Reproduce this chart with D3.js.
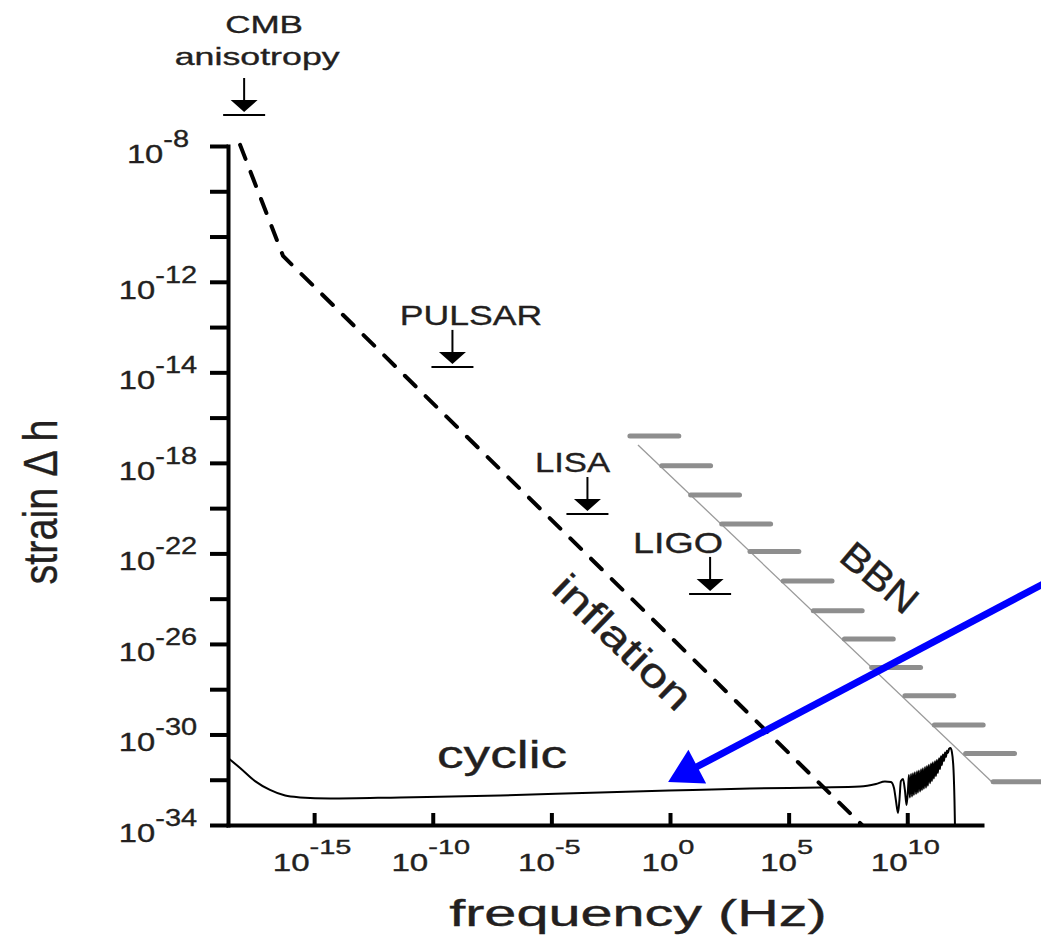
<!DOCTYPE html>
<html>
<head>
<meta charset="utf-8">
<script src="https://cdn.jsdelivr.net/npm/d3@7"></script>
<style>
  html, body { margin: 0; padding: 0; background: #fff; }
  svg { display: block; }
  text { font-family: "Liberation Sans", Arial, Helvetica, sans-serif; fill: #231f20; stroke: #231f20; stroke-width: 0.35px; }
</style>
</head>
<body>
<svg id="chart" width="1041" height="943"></svg>
<script>
// ---- axis ticks (log10 units) ----
const xTicks = [-15, -10, -5, 0, 5, 10];
const xTickExps = ["-15", "-10", "-5", "0", "5", "10"];
const yTicks = [-34, -32, -30, -28, -26, -24, -22, -20, -18, -16, -14, -12, -10, -8, -6, -4];
const yLabelAt = [-34, -30, -26, -22, -18, -14, -10, -4];
const yLabelExps = ["-34", "-30", "-26", "-22", "-18", "-14", "-12", "-8"];

// ---- inflation spectrum (dashed) ----
const inflationLogF = [-18.12, -16.31, 8.09];
const inflationLogH = [-3.95, -8.86, -34.0];

// ---- cyclic model spectrum (solid): plateau, dips, then the dense oscillation wedge ----
const cyclicLogF = [-18.63, -18.12, -17.49, -16.86, -16.22, -15.59, -14.33, -11.38, -7.16, -2.95,
  -0.04, 3.37, 6.32, 8.01, 8.68, 9.06, 9.31, 9.44, 9.52, 9.61,
  9.67, 9.73, 9.82, 9.90, 9.97, 10.03,
  10.07, 10.11, 10.16, 10.20, 10.24, 10.28, 10.32, 10.37, 10.41, 10.45,
  10.49, 10.54, 10.58, 10.62, 10.66, 10.70, 10.75, 10.79, 10.83, 10.87,
  10.91, 10.96, 11.00, 11.04, 11.08, 11.12, 11.17, 11.21, 11.25, 11.29,
  11.34, 11.38, 11.42, 11.46, 11.50, 11.55, 11.59, 11.63, 11.67, 11.71,
  11.76, 11.82, 11.88, 11.95, 11.99, 12.01];
const cyclicLogH = [-31.04, -31.48, -32.06, -32.45, -32.70, -32.78, -32.83, -32.78, -32.70, -32.56,
  -32.48, -32.39, -32.34, -32.30, -32.19, -32.08, -32.10, -32.36, -32.90, -33.47,
  -32.90, -32.06, -31.97, -32.45, -33.12, -32.45,
  -31.79, -32.79, -31.75, -32.74, -31.71, -32.68, -31.67, -32.63, -31.63, -32.57,
  -31.59, -32.52, -31.54, -32.46, -31.49, -32.40, -31.44, -32.35, -31.39, -32.27,
  -31.34, -32.16, -31.28, -32.06, -31.23, -31.95, -31.18, -31.84, -31.13, -31.70,
  -31.05, -31.53, -30.96, -31.35, -30.88, -31.17, -30.80, -31.00, -30.72, -30.82,
  -30.64, -30.60, -30.77, -31.57, -32.90, -34.0];

// ---- BBN bound: diagonal edge and hatch steps ----
const bbnEdgeLogF = [-1.35, 13.57];
const bbnEdgeLogH = [-17.21, -32.10];
const bbnStepLogF = [-1.69, -0.35, 0.87, 2.18, 3.37, 4.77, 6.04, 7.35, 8.50, 9.90, 11.14, 12.46, 13.62];
const bbnStepLogH = [-16.81, -18.13, -19.42, -20.70, -21.92, -23.22, -24.53, -25.78, -27.04, -28.29, -29.58, -30.84, -32.09];
const bbnStepDecades = 2.06;

// ---- experiment sensitivity markers ----
const markerNames = ["CMB", "PULSAR", "LISA", "LIGO"];
const markerLogF = [-17.95, -9.17, -3.48, 1.69];
const markerLogH = [-2.63, -13.76, -20.26, -23.79];

// ---- text annotations ----
const noteTexts = ["CMB", "anisotropy", "PULSAR", "LISA", "LIGO", "cyclic"];
const noteLogF = [-17.11, -17.40, -8.39, -4.11, 0.34, -7.08];
const noteLogH = [1.00, -0.42, -11.91, -18.40, -21.98, -31.48];

// ---- blue pointer arrow (tail -> tip) ----
const pointerLogF = [16.0, -0.08];
const pointerLogH = [-23.2, -32.10];

// ---------------------------------------------------------------
const svg = d3.select("#chart");
svg.append("rect").attr("width", 1041).attr("height", 943).attr("fill", "#fff");

const x = d3.scaleLinear().domain([-18.63, 13.15]).range([228, 982]);
const y = d3.scaleLinear().domain([-34, -4]).range([825, 146]);

const zip = (a, b) => a.map((v, i) => [v, b[i]]);

// BBN bound
const bbn = svg.append("g");
bbn.append("line")
  .attr("x1", x(bbnEdgeLogF[0])).attr("y1", y(bbnEdgeLogH[0]))
  .attr("x2", x(bbnEdgeLogF[1])).attr("y2", y(bbnEdgeLogH[1]))
  .attr("stroke", "#9a9a9a").attr("stroke-width", 1.3);
bbn.selectAll("line.step").data(zip(bbnStepLogF, bbnStepLogH)).join("line")
  .attr("class", "step")
  .attr("x1", d => x(d[0])).attr("y1", d => y(d[1]))
  .attr("x2", d => x(d[0] + bbnStepDecades)).attr("y2", d => y(d[1]))
  .attr("stroke", "#8e8e8e").attr("stroke-width", 5).attr("stroke-linecap", "round");

// inflation (dashed)
svg.append("path")
  .datum(zip(inflationLogF, inflationLogH))
  .attr("d", d3.line().x(d => x(d[0])).y(d => y(d[1])))
  .attr("fill", "none").attr("stroke", "#000").attr("stroke-width", 4)
  .attr("stroke-dasharray", "15 14").attr("stroke-linecap", "round");

// cyclic (solid)
svg.append("path")
  .datum(zip(cyclicLogF, cyclicLogH))
  .attr("d", d3.line().x(d => x(d[0])).y(d => y(d[1])).curve(d3.curveMonotoneX))
  .attr("fill", "none").attr("stroke", "#000").attr("stroke-width", 2)
  .attr("stroke-linejoin", "round");

// axes
const yAxis = d3.axisLeft(y).tickValues(yTicks).tickSizeInner(18).tickSizeOuter(0).tickFormat("");
const xAxis = d3.axisBottom(x).tickValues(xTicks).tickSizeInner(-12).tickSizeOuter(0).tickFormat("");
const gy = svg.append("g").attr("transform", `translate(${x.range()[0]},0)`).call(yAxis);
const gx = svg.append("g").attr("transform", `translate(0,${y.range()[0]})`).call(xAxis);
[gx, gy].forEach(g => {
  g.select(".domain").attr("stroke", "#000").attr("stroke-width", 4).attr("stroke-linecap", "square");
  g.selectAll(".tick line").attr("stroke", "#000").attr("stroke-width", 4);
});

// power-of-ten labels with stretched glyphs
function powerLabel(g, px, py, exp, base, sup, rise, sx) {
  const t = g.append("g").attr("transform", `translate(${px},${py}) scale(${sx},1)`)
    .append("text").attr("text-anchor", "middle");
  t.append("tspan").attr("font-size", base).text("10");
  t.append("tspan").attr("font-size", sup).attr("dy", -rise).text(exp);
}
const yl = svg.append("g");
yLabelAt.forEach((v, i) => powerLabel(yl, x.range()[0] - 70, y(v) + 17, yLabelExps[i], 26, 23, 16, 1.26));
const xl = svg.append("g");
xTicks.forEach((v, i) => powerLabel(xl, x(v) - 2, y.range()[0] + 46, xTickExps[i], 24, 21, 17, 1.38));

// axis titles
svg.append("g").attr("transform", "translate(638,926) scale(1.6,1)")
  .append("text").attr("text-anchor", "middle").attr("font-size", 36).text("frequency (Hz)");
svg.append("text")
  .attr("transform", "translate(57,502) rotate(-90)")
  .attr("text-anchor", "middle").attr("font-size", 49)
  .attr("textLength", 165).attr("lengthAdjust", "spacingAndGlyphs")
  .text("strain \u0394 h");

// sensitivity markers: stem, arrowhead and bar
const mk = svg.selectAll("g.marker").data(zip(markerLogF, markerLogH)).join("g")
  .attr("class", "marker")
  .attr("transform", d => `translate(${x(d[0])},${y(d[1])})`);
mk.append("line").attr("x1", 0).attr("x2", 0).attr("y1", -37).attr("y2", -14)
  .attr("stroke", "#000").attr("stroke-width", 2);
mk.append("path").attr("d", "M-13.5,-15L13.5,-15L0,-3Z").attr("fill", "#000");
mk.append("line").attr("x1", -21).attr("x2", 21).attr("y1", 0).attr("y2", 0)
  .attr("stroke", "#000").attr("stroke-width", 2);

// annotation texts
const noteSize = [24, 24, 28, 28, 29, 38];
const noteStretch = [1.46, 1.49, 1.27, 1.24, 1.3, 1.4];
noteTexts.forEach((s, i) => {
  svg.append("g")
    .attr("transform", `translate(${x(noteLogF[i])},${y(noteLogH[i])}) scale(${noteStretch[i]},1)`)
    .append("text").attr("text-anchor", "middle").attr("font-size", noteSize[i]).text(s);
});

// rotated labels along the curves
svg.append("text")
  .attr("transform", `translate(${x(-2.40)},${y(-26.36)}) rotate(44)`)
  .attr("text-anchor", "middle").attr("font-size", 40)
  .attr("textLength", 176).attr("lengthAdjust", "spacingAndGlyphs")
  .text("inflation");
svg.append("text")
  .attr("transform", `translate(${x(8.47)},${y(-23.53)}) rotate(40)`)
  .attr("text-anchor", "middle").attr("font-size", 39)
  .attr("textLength", 88).attr("lengthAdjust", "spacingAndGlyphs")
  .text("BBN");

// blue pointer arrow
(function () {
  const x0 = x(pointerLogF[0]), y0 = y(pointerLogH[0]);
  const x1 = x(pointerLogF[1]), y1 = y(pointerLogH[1]);
  const len = Math.hypot(x1 - x0, y1 - y0);
  const ux = (x1 - x0) / len, uy = (y1 - y0) / len;
  const headLen = 33, headHalf = 19;
  const bx = x1 - ux * headLen, by = y1 - uy * headLen;
  svg.append("line")
    .attr("x1", x0).attr("y1", y0).attr("x2", bx + ux * 2).attr("y2", by + uy * 2)
    .attr("stroke", "#0000ff").attr("stroke-width", 7);
  svg.append("path")
    .attr("d", `M${x1},${y1}L${bx - uy * headHalf},${by + ux * headHalf}L${bx + uy * headHalf},${by - ux * headHalf}Z`)
    .attr("fill", "#0000ff");
})();
</script>
</body>
</html>
